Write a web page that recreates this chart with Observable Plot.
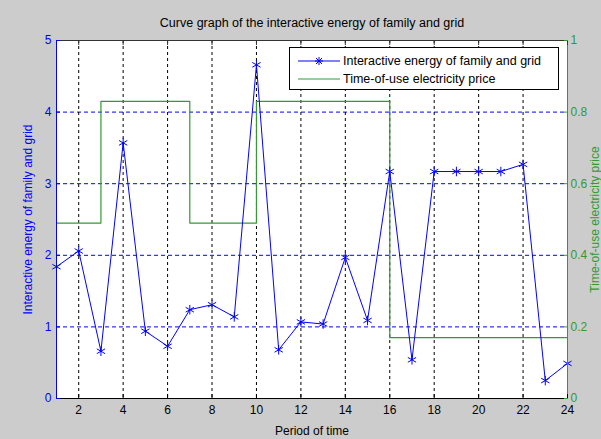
<!DOCTYPE html>
<html><head><meta charset="utf-8">
<script src="https://cdn.jsdelivr.net/npm/d3@7"></script>
<script src="https://cdn.jsdelivr.net/npm/@observablehq/plot@0.6"></script>
<style>
body{margin:0;background:#cccccc;}
#wrap{position:relative;width:601px;height:439px;overflow:hidden;font-family:"Liberation Sans",Arial,sans-serif;background:#cccccc;}
#legend{position:absolute;left:289px;top:47px;width:270px;height:43px;background:#fff;border:1px solid #000;box-sizing:border-box;font-size:12.5px;color:#000;}
#legend .row{position:absolute;left:6px;height:16px;display:flex;align-items:center;}
#legend svg{margin-right:3px;}
</style></head><body><div id="wrap"></div>
<script>
const periods = [1,2,3,4,5,6,7,8,9,10,11,12,13,14,15,16,17,18,19,20,21,22,23,24];
const energy = [1.84,2.06,0.66,3.57,0.94,0.73,1.24,1.31,1.14,4.66,0.68,1.07,1.04,1.97,1.09,3.17,0.54,3.17,3.17,3.17,3.17,3.27,0.25,0.49];
const price = [0.49,0.49,0.83,0.83,0.83,0.83,0.49,0.49,0.49,0.83,0.83,0.83,0.83,0.83,0.83,0.17,0.17,0.17,0.17,0.17,0.17,0.17,0.17,0.17];
const xTicks = [2,4,6,8,10,12,14,16,18,20,22,24];
const yTicks = [0,1,2,3,4,5];
const priceTicks = [0,0.2,0.4,0.6,0.8,1];
const titleText = "Curve graph of the interactive energy of family and grid";
const seriesNames = ["Interactive energy of family and grid","Time-of-use electricity price"];

const BLUE = "#0000ff", GREEN = "#339933";
const data = periods.map((p,i)=>({period:p, energy:energy[i], price:price[i]}));
const scaleRatio = 5 / 1; // left axis max / right axis max

const chart = Plot.plot({
  width: 601, height: 439,
  marginTop: 40, marginBottom: 41, marginLeft: 56, marginRight: 34,
  style: {background:"#cccccc", fontFamily:"Liberation Sans, Arial, sans-serif", fontSize:"12px", overflow:"visible"},
  x: {domain:[1,24]},
  y: {domain:[0,5]},
  marks: [
    Plot.frame({fill:"white", stroke:null}),
    Plot.ruleY([1,2,3,4], {stroke:BLUE, strokeDasharray:"4,3", strokeWidth:1}),
    Plot.ruleX(xTicks.filter(d=>d<24), {stroke:"#000", strokeDasharray:"3,3", strokeWidth:1}),
    Plot.line(data, {x:"period", y:d=>d.price*scaleRatio, curve:"step-after", stroke:GREEN, strokeWidth:1.2}),
    Plot.line(data, {x:"period", y:"energy", stroke:BLUE, strokeWidth:1}),
    Plot.dot(data, {x:"period", y:"energy", symbol:"asterisk", r:4.5, stroke:BLUE, strokeWidth:1}),
    // frame edges
    Plot.ruleY([0], {stroke:"#000"}),
    Plot.ruleY([5], {stroke:"#333"}),
    Plot.ruleX([1], {stroke:BLUE}),
    Plot.ruleX([24], {stroke:GREEN}),
    // inward ticks
    Plot.axisX(xTicks, {anchor:"bottom", tickSize:-4, tickFormat:()=>"", label:null, stroke:"#000"}),
    Plot.axisX(xTicks, {anchor:"top", tickSize:-4, tickFormat:()=>"", label:null, stroke:"#333"}),
    Plot.axisY(yTicks, {anchor:"left", tickSize:-4, tickFormat:()=>"", label:null, stroke:BLUE}),
    Plot.axisY(priceTicks.map(d=>d*scaleRatio), {anchor:"right", tickSize:-4, tickFormat:()=>"", label:null, stroke:GREEN}),
    // labels
    Plot.axisX(xTicks, {anchor:"bottom", tickSize:0, tickPadding:7, fill:"#000", fontSize:12, tickFormat:d=>String(d), label:"Period of time", labelAnchor:"center", labelOffset:36, labelArrow:"none"}),
    Plot.axisY(yTicks, {anchor:"left", tickSize:0, tickPadding:5, fill:BLUE, fontSize:12, tickFormat:d=>String(d), label:seriesNames[0], labelAnchor:"center", labelOffset:33, labelArrow:"none"}),
    Plot.axisY(priceTicks.map(d=>d*scaleRatio), {anchor:"right", tickSize:0, tickPadding:3, fill:GREEN, fontSize:12, tickFormat:d=>{const v=d/scaleRatio; return (v===0||v===1)?String(v):v.toFixed(1);}, label:seriesNames[1], labelAnchor:"center", labelOffset:31, labelArrow:"none"}),
    Plot.text([titleText], {text:d=>d, frameAnchor:"top", dy:-22, fill:"#000", fontSize:12.5})
  ]
});
const wrap = document.getElementById("wrap");
wrap.appendChild(chart);

const legend = document.createElement("div");
legend.id = "legend";
legend.innerHTML = `
<div class="row" style="top:5px"><svg width="44" height="10"><line x1="2" y1="5" x2="44" y2="5" stroke="${BLUE}" stroke-width="1"/><g stroke="${BLUE}" stroke-width="1" transform="translate(23,5)"><line x1="-4" y1="0" x2="4" y2="0"/><line x1="0" y1="-4" x2="0" y2="4"/><line x1="-3" y1="-3" x2="3" y2="3"/><line x1="-3" y1="3" x2="3" y2="-3"/></g></svg><span>${seriesNames[0]}</span></div>
<div class="row" style="top:23px"><svg width="44" height="10"><line x1="2" y1="5" x2="44" y2="5" stroke="${GREEN}" stroke-width="1.2"/></svg><span>${seriesNames[1]}</span></div>`;
wrap.appendChild(legend);
</script></body></html>
